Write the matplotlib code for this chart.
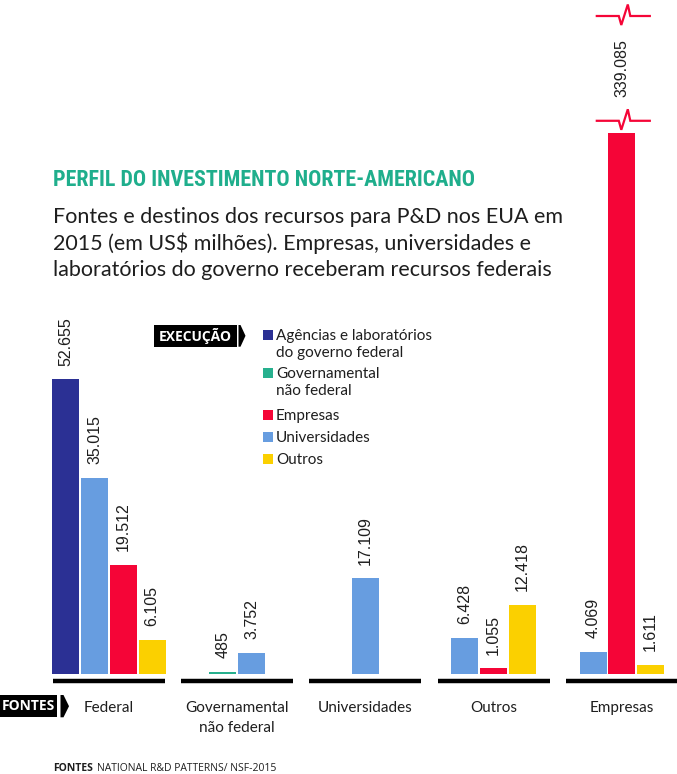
import matplotlib
matplotlib.use('Agg')
import matplotlib.pyplot as plt
from matplotlib.patches import Rectangle, Polygon

# ---------------- data ----------------
sources = ['Federal', 'Governamental\nnão federal', 'Universidades', 'Outros', 'Empresas']
legend_labels = ['Agências e laboratórios\ndo governo federal', 'Governamental\nnão federal',
                 'Empresas', 'Universidades', 'Outros']
agencias = [52655, 0, 0, 0, 0]
governamental = [0, 485, 0, 0, 0]
universidades = [35015, 3752, 17109, 6428, 4069]
empresas = [19512, 0, 0, 1055, 339085]
outros = [6105, 0, 0, 12418, 1611]

title = 'PERFIL DO INVESTIMENTO NORTE-AMERICANO'
subtitle = ['Fontes e destinos dos recursos para P&D nos EUA em',
            '2015 (em US$ milhões). Empresas, universidades e',
            'laboratórios do governo receberam recursos federais']
source_bold = 'FONTES'
source_text = 'NATIONAL R&D PATTERNS/ NSF-2015'

# ---------------- style ----------------
C_AG = '#2B3094'
C_GOV = '#27B08E'
C_EMP = '#F50537'
C_UNI = '#679DE0'
C_OUT = '#FBD000'
C_TITLE = '#1FAE8C'
TXT = '#1e1e1e'

W, H, DPI = 677, 774, 100
BASE = 674.3          # baseline pixel
YTOP = 120400         # value at top edge of figure
CAP = 96600           # broken-bar display cap
G0, GS = 109.0, 128.2 # group centre / spacing (px)
SLOT, BW = 28.8, 27.0

fig = plt.figure(figsize=(W / DPI, H / DPI), dpi=DPI)
fig.patch.set_facecolor('white')

ax = fig.add_axes([0, (H - BASE) / H, 1, BASE / H])
ax.set_xlim(0, W)
ax.set_ylim(0, YTOP)
ax.axis('off')

ov = fig.add_axes([0, 0, 1, 1], zorder=5)
ov.set_xlim(0, W)
ov.set_ylim(H, 0)
ov.axis('off')
ov.patch.set_alpha(0)

series = [(agencias, C_AG), (governamental, C_GOV), (universidades, C_UNI),
          (empresas, C_EMP), (outros, C_OUT)]

def fmt(v):
    return f'{v:,}'.replace(',', '.')

for i, src in enumerate(sources):
    g = G0 + i * GS
    present = [(vals[i], col) for vals, col in series if vals[i] > 0]
    n = len(present)
    for k, (v, col) in enumerate(present):
        x = g + (k - (n - 1) / 2) * SLOT
        h = min(v, CAP)
        ax.bar(x, h, width=BW, color=col, linewidth=0)
        if v > CAP:
            top_px = BASE - h / YTOP * BASE
            for yb in (top_px - 12.5, 16.0):
                ov.plot([x - 25, x - 3, x - 0.5, x + 6, x + 8.5, x + 28],
                        [yb, yb, yb + 9, yb - 11.5, yb, yb],
                        color=C_EMP, lw=1.6, solid_joinstyle='miter')
            ov.text(x, (top_px - 12.5 + 16.0) / 2, fmt(v), rotation=90, ha='center',
                    va='center', fontsize=11.5, family='Liberation Sans', color=TXT)
        else:
            ax.annotate(fmt(v), xy=(x, h), xytext=(0, 10), textcoords='offset points',
                        rotation=90, ha='center', va='bottom', fontsize=11.5,
                        family='Liberation Sans', color=TXT, annotation_clip=False)
    ov.plot([g - 56, g + 56], [680.5, 680.5], color='black', lw=3.2, solid_capstyle='butt')
    for j, line in enumerate(src.split('\n')):
        ov.text(g, 712 + j * 20, line, ha='center', va='baseline', fontsize=11,
                family='Lato', color=TXT)

# FONTES box
ov.add_patch(Rectangle((0, 695), 56.7, 22.3, color='black', lw=0))
ov.add_patch(Polygon([(60.5, 695), (63.5, 695), (69, 706.2), (63.5, 717.3), (60.5, 717.3)],
                     closed=True, color='black', lw=0))
ov.text(28.5, 706.5, 'FONTES', ha='center', va='center', fontsize=10, color='white',
        family='Open Sans', weight='bold')

# EXECUÇÃO box
ov.add_patch(Rectangle((154, 325), 82.7, 21.7, color='black', lw=0))
ov.add_patch(Polygon([(238.5, 325), (240.5, 325), (245.5, 335.8), (240.5, 346.7), (238.5, 346.7)],
                     closed=True, color='black', lw=0))
ov.text(195.3, 336, 'EXECUÇÃO', ha='center', va='center', fontsize=10, color='white',
        family='Open Sans', weight='bold')

# legend
leg_cols = [C_AG, C_GOV, C_EMP, C_UNI, C_OUT]
leg_y = [335, 373, 415, 436.7, 459.3]
for lab, col, y in zip(legend_labels, leg_cols, leg_y):
    ov.add_patch(Rectangle((263.3, y - 5), 10, 10, color=col, lw=0))
    for j, line in enumerate(lab.split('\n')):
        ov.text(276, y + 5 + j * 17, line, ha='left', va='baseline', fontsize=11,
                family='Lato', color=TXT)

# title (auto-fit to reference width)
t = ov.text(53, 186, title, ha='left', va='baseline', fontsize=20, color=C_TITLE,
            family=['Roboto Condensed', 'Open Sans Condensed', 'Liberation Sans Narrow',
                    'DejaVu Sans'],
            weight='bold', fontstretch='condensed')
fig.canvas.draw()
bb = t.get_window_extent()
t.set_fontsize(20 * 424 / bb.width)

for j, line in enumerate(subtitle):
    ov.text(53, 223 + j * 26.5, line, ha='left', va='baseline', fontsize=15.5,
            family='Lato', color=TXT)

# source
st = ov.text(53, 771, source_bold, ha='left', va='baseline', fontsize=7.5,
             family='Open Sans', weight='bold', color=TXT)
fig.canvas.draw()
sb = st.get_window_extent()
ov.text(53 + sb.width + 4, 771, source_text, ha='left', va='baseline', fontsize=7.5,
        family='Open Sans', color=TXT)

fig.savefig('out.png', dpi=DPI, facecolor='white')
